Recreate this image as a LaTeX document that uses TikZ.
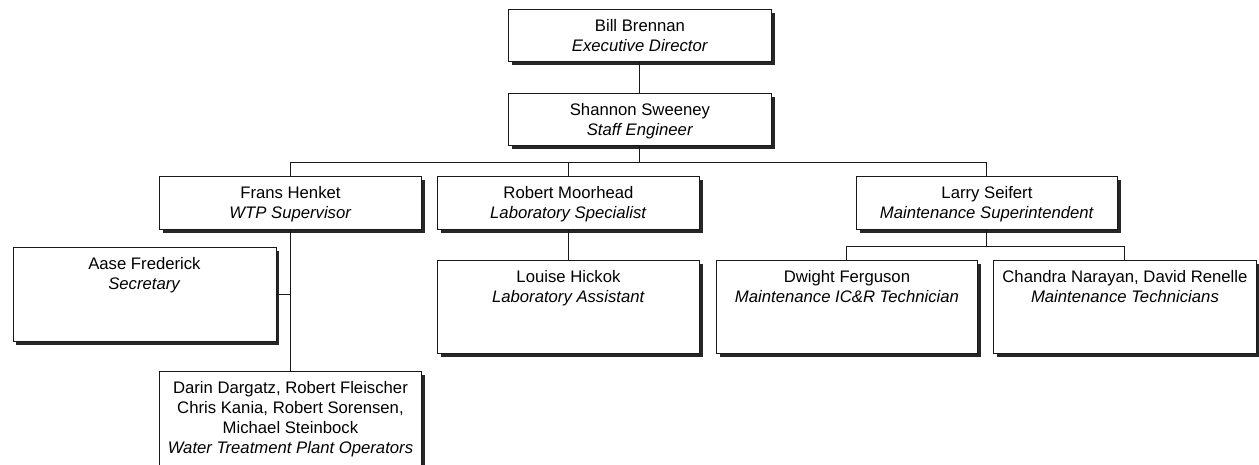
\documentclass[tikz,border=0pt]{standalone}
\usepackage{fontspec}
\setmainfont{Liberation Sans}
\usetikzlibrary{shadows}
\begin{document}
\begin{tikzpicture}[x=1pt,y=-1pt,
  box/.style={rectangle, draw=black!90, line width=0.9pt, fill=white, inner sep=0pt, anchor=north west,
    drop shadow={shadow xshift=3.5pt, shadow yshift=-3.5pt, fill=black!85, opacity=1}},
  lbl/.style={anchor=north, inner sep=0pt, align=center, font=\fontsize{16.7}{20}\selectfont},
  conn/.style={draw=black!90, line width=1pt}]
\useasboundingbox (0,0) rectangle (1259,464);
% boxes
\node[box, minimum width=263pt, minimum height=52pt] (bill) at (508,9) {};
\node[box, minimum width=263pt, minimum height=52pt] (shan) at (508,93) {};
\node[box, minimum width=262pt, minimum height=53pt] (frans) at (159,176) {};
\node[box, minimum width=262pt, minimum height=53pt] (moor) at (437,176) {};
\node[box, minimum width=261pt, minimum height=53pt] (larry) at (856,176) {};
\node[box, minimum width=263pt, minimum height=94pt] (aase) at (12.5,247) {};
\node[box, minimum width=262pt, minimum height=93pt] (louise) at (437,260) {};
\node[box, minimum width=261pt, minimum height=93pt] (dwight) at (716,260) {};
\node[box, minimum width=263pt, minimum height=93pt] (chandra) at (993,260) {};
\node[box, minimum width=262pt, minimum height=120pt] (darin) at (159,371) {};
% labels
\node[lbl] (billT) at ([yshift=-10pt]bill.north) {Bill Brennan\\\textit{Executive Director}};
\node[lbl] (shanT) at ([yshift=-10pt]shan.north) {Shannon Sweeney\\\textit{Staff Engineer}};
\node[lbl] (fransT) at ([yshift=-10pt]frans.north) {Frans Henket\\\textit{WTP Supervisor}};
\node[lbl] (moorT) at ([yshift=-10pt]moor.north) {Robert Moorhead\\\textit{Laboratory Specialist}};
\node[lbl] (larryT) at ([yshift=-10pt]larry.north) {Larry Seifert\\\textit{Maintenance Superintendent}};
\node[lbl] (aaseT) at ([yshift=-10pt]aase.north) {Aase Frederick\\\textit{Secretary}};
\node[lbl] (louiseT) at ([yshift=-10pt]louise.north) {Louise Hickok\\\textit{Laboratory Assistant}};
\node[lbl] (dwightT) at ([yshift=-10pt]dwight.north) {Dwight Ferguson\\\textit{Maintenance IC\&R Technician}};
\node[lbl] (chandraT) at ([yshift=-10pt]chandra.north) {Chandra Narayan, David Renelle\\\textit{Maintenance Technicians}};
\node[lbl] (darinT) at ([yshift=-10pt]darin.north) {Darin Dargatz, Robert Fleischer\\Chris Kania, Robert Sorensen,\\Michael Steinbock\\\textit{Water Treatment Plant Operators}};
% connectors
\coordinate (bus) at (0,162);
\coordinate (sub) at (0,246);
\draw[conn] (bill.south) -- (shan.north);
\draw[conn] (shan.south) -- (shan.south |- bus);
\draw[conn] (frans.north) -- (frans.north |- bus) -- (larry.north |- bus) -- (larry.north);
\draw[conn] (moor.north) -- (moor.north |- bus);
\draw[conn] (frans.south) -- (darin.north);
\draw[conn] (aase.east) -- (aase.east -| frans.south);
\draw[conn] (moor.south) -- (louise.north);
\draw[conn] (larry.south) -- (larry.south |- sub);
\draw[conn] (dwight.north) -- (dwight.north |- sub) -- (chandra.north |- sub) -- (chandra.north);
\end{tikzpicture}
\end{document}
